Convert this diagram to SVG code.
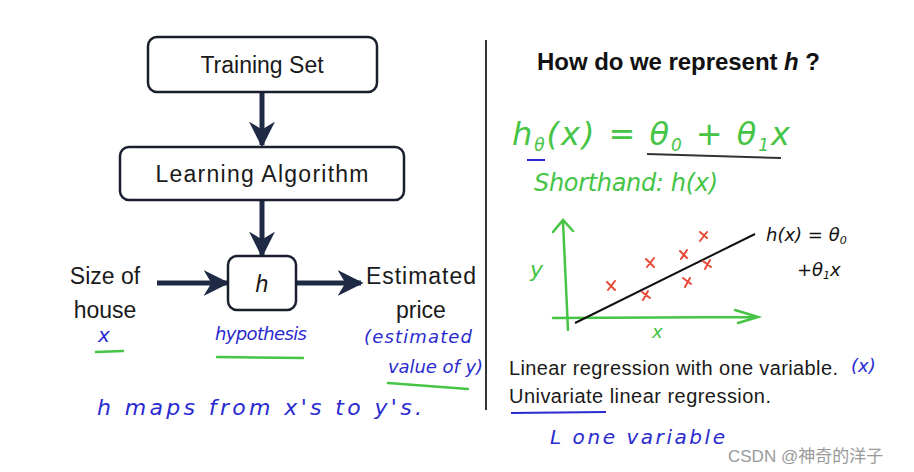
<svg xmlns="http://www.w3.org/2000/svg" width="914" height="472" viewBox="0 0 914 472">
<defs>
<style>
.box{fill:#fff;stroke:#1a1f2e;stroke-width:2.5}
.lbl{font-family:"Liberation Sans",Arial,sans-serif;font-size:23px;fill:#1a1a1a;text-anchor:middle}
.slide{font-family:"Liberation Sans",Arial,sans-serif;font-size:20px;fill:#1a1a1a}
.conn{stroke:#1f2a44;stroke-width:5;fill:none}
.hand{font-family:"DejaVu Sans",sans-serif;font-style:italic;font-weight:300}
.blue{fill:#2a2ad0}
.green{fill:#45c445}
.gline{stroke:#45c445;stroke-width:2.5;fill:none;stroke-linecap:round}
.red{stroke:#e84a38;stroke-width:2;fill:none;stroke-linecap:round}
</style>
<marker id="ah" viewBox="0 0 10 10" refX="9" refY="5" markerWidth="5.2" markerHeight="5.2" orient="auto" markerUnits="strokeWidth">
<path d="M0,0 L10,5 L0,10 L3,5 Z" fill="#1f2a44"/>
</marker>
</defs>
<rect width="914" height="472" fill="#fff"/>

<g id="connectors">
<line class="conn" x1="262" y1="93" x2="262" y2="145" marker-end="url(#ah)"/>
<line class="conn" x1="262" y1="201" x2="262" y2="255" marker-end="url(#ah)"/>
<line class="conn" x1="157" y1="283" x2="227" y2="283" marker-end="url(#ah)"/>
<line class="conn" x1="297" y1="283" x2="361" y2="283" marker-end="url(#ah)"/>
</g>

<g id="training-set">
<rect class="box" x="148" y="37" width="229" height="55" rx="9"/>
<text class="lbl" x="262" y="73">Training Set</text>
</g>
<g id="learning-algorithm">
<rect class="box" x="120" y="147" width="284" height="53" rx="9"/>
<text class="lbl" x="262" y="182" textLength="213">Learning Algorithm</text>
</g>
<g id="h">
<rect class="box" x="228" y="256" width="68" height="54" rx="9"/>
<text class="lbl" x="262" y="292" font-style="italic">h</text>
</g>
<g id="size-of-house">
<text class="lbl" x="105" y="284" font-size="24">Size of</text>
<text class="lbl" x="105" y="318" font-size="24">house</text>
</g>
<g id="estimated-price">
<text class="lbl" x="421" y="284" font-size="24" textLength="110">Estimated</text>
<text class="lbl" x="421" y="318" font-size="24">price</text>
</g>

<!-- handwritten notes left -->
<text class="hand blue" x="98" y="342" font-size="20">x</text>
<line class="gline" x1="96" y1="352" x2="123" y2="351"/>
<text class="hand blue" x="215" y="340" font-size="18" textLength="92">hypothesis</text>
<line class="gline" x1="217" y1="357" x2="303" y2="358"/>
<text class="hand blue" x="364" y="343" font-size="18" textLength="108">(estimated</text>
<text class="hand blue" x="388" y="373" font-size="18" textLength="95">value of y)</text>
<line class="gline" x1="388" y1="383" x2="468" y2="389"/>
<text class="hand blue" x="97" y="415" font-size="22" textLength="325">h  maps  from  x's  to  y's.</text>

<line x1="486" y1="40" x2="486" y2="410" stroke="#333" stroke-width="2"/>

<!-- right side -->
<text x="537" y="70" font-family="Liberation Sans,Arial,sans-serif" font-weight="bold" font-size="24" fill="#111" textLength="283">How do we represent <tspan font-style="italic">h</tspan> ?</text>

<text class="hand green" x="512" y="145" font-size="32" textLength="278">h<tspan font-size="17" dy="6">θ</tspan><tspan dy="-6">(x) = θ</tspan><tspan font-size="17" dy="6">0</tspan><tspan dy="-6"> + θ</tspan><tspan font-size="17" dy="6">1</tspan><tspan dy="-6">x</tspan></text>
<line x1="527" y1="160" x2="545" y2="160" stroke="#2a2ad0" stroke-width="2"/>
<line x1="647" y1="154" x2="781" y2="158" stroke="#333" stroke-width="2"/>
<text class="hand green" x="534" y="191" font-size="24" textLength="184">Shorthand: h(x)</text>

<g id="plot">
<path class="gline" d="M568,330 L563,222 M553,232 L563,220 L573,231"/>
<path class="gline" d="M553,318 L758,317 M735,310 L758,317 L738,323"/>
<text class="hand green" x="530" y="277" font-size="22">y</text>
<text class="hand green" x="652" y="338" font-size="18">x</text>
<line x1="575" y1="323" x2="755" y2="234" stroke="#111" stroke-width="2"/>
<path class="red" d="M607,282 l8,8 M615,281 l-7,9 M646,259 l8,8 M654,258 l-7,9 M680,251 l7,7 M687,250 l-6,9 M700,232 l7,6 M700,241 l7,-9 M642,292 l8,6 M648,291 l-5,9 M683,278 l8,6 M690,278 l-5,9 M703,261 l8,6 M710,260 l-5,9"/>
<text class="hand" x="766" y="241" font-size="18" fill="#111">h(x) = θ<tspan font-size="11" dy="3">0</tspan></text>
<text class="hand" x="797" y="276" font-size="18" fill="#111">+θ<tspan font-size="11" dy="3">1</tspan><tspan dy="-3">x</tspan></text>
</g>

<text class="slide" x="509" y="375" textLength="329">Linear regression with one variable.</text>
<text class="hand blue" x="851" y="372" font-size="18">(x)</text>
<text class="slide" x="509" y="403" textLength="262">Univariate linear regression.</text>
<line x1="511" y1="413" x2="606" y2="412" stroke="#2a2ad0" stroke-width="2"/>
<text class="hand blue" x="550" y="444" font-size="20" textLength="175">L one  variable</text>

<text x="728" y="462" font-family="Liberation Sans,'Noto Sans CJK SC',sans-serif" font-size="17" fill="#9a9a9a">CSDN @神奇的洋子</text>
</svg>
